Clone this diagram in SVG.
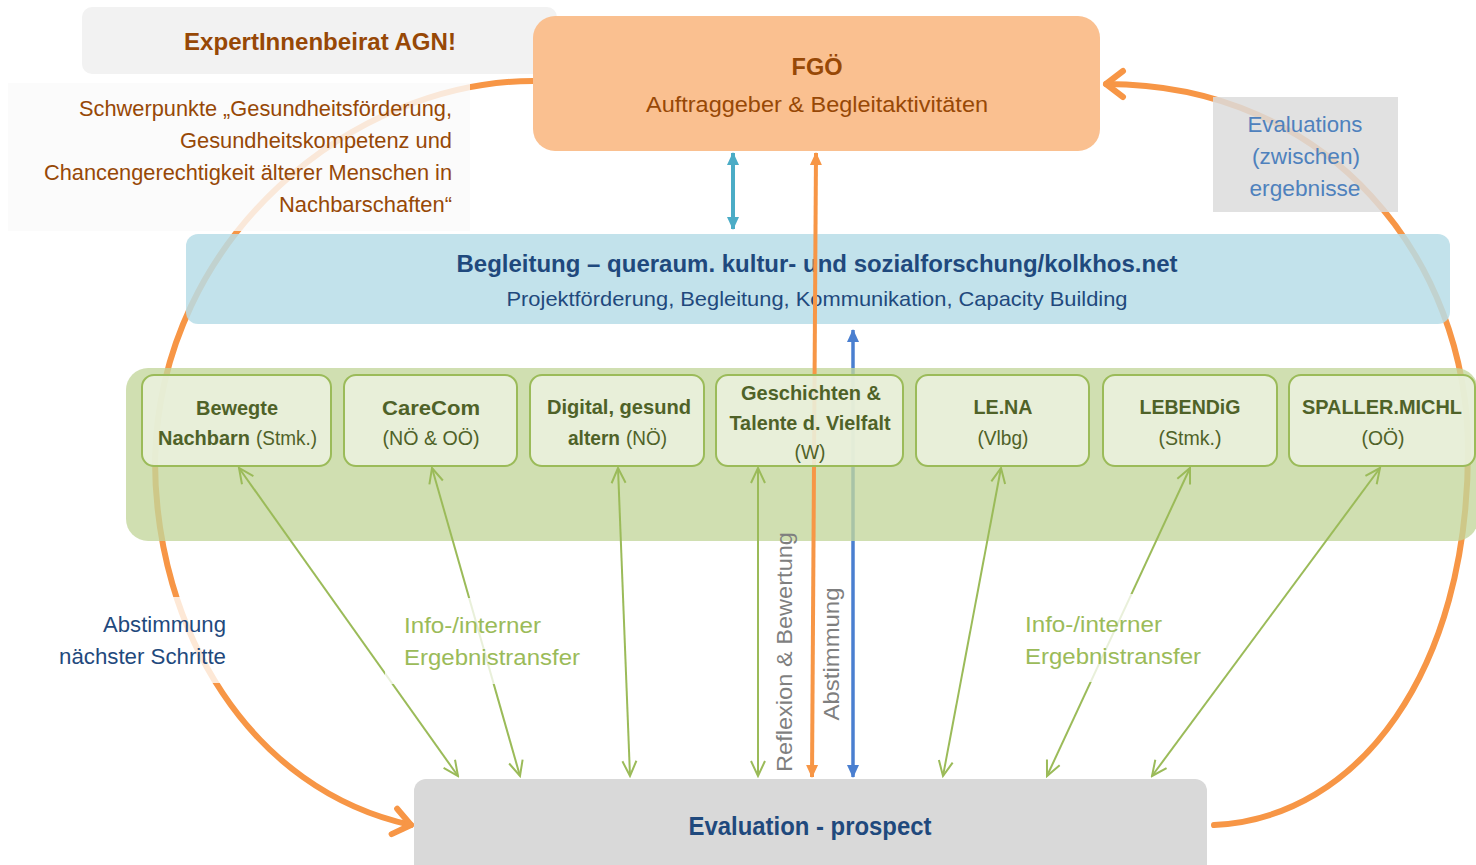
<svg xmlns="http://www.w3.org/2000/svg" width="1476" height="865" viewBox="0 0 1476 865">
<style>
text{font-family:"Liberation Sans Narrow","Liberation Sans",Arial,sans-serif;}
.brown{fill:#974806;}
.dblue{fill:#1f497d;}
.mblue{fill:#4f81bd;}
.olive{fill:#4f6228;}
.green{fill:#9bbb59;}
.gray{fill:#7f7f7f;}
.b{font-weight:bold;}
.n{font-weight:normal;}
.proj rect{fill:#ebf1de;fill-opacity:0.88;stroke:#9bbb59;stroke-width:2;}
.proj text{font-size:21px;text-anchor:middle;fill:#4f6228;}
.proj text.s{text-anchor:start;}
.garrow{fill:none;stroke:#9bbb59;stroke-width:2;marker-start:url(#gHead);marker-end:url(#gHead);}
.arc{fill:none;stroke:#f79646;stroke-width:6;stroke-linecap:round;marker-end:url(#arcHead);}
.lbl{font-size:22px;}
</style>
<defs>
<marker id="gHead" markerUnits="userSpaceOnUse" viewBox="0 0 20 20" refX="18" refY="10" markerWidth="20" markerHeight="20" orient="auto-start-reverse">
<path d="M3,3 L18,10 L3,17" fill="none" stroke="#9bbb59" stroke-width="2"/>
</marker>
<marker id="arcHead" markerUnits="userSpaceOnUse" viewBox="-24 -18 30 36" refX="0" refY="0" markerWidth="30" markerHeight="36" orient="auto">
<path d="M-17,-13 L0,0 L-17,13" fill="none" stroke="#f79646" stroke-width="6" stroke-linecap="round" stroke-linejoin="round"/>
</marker>
<marker id="oHead" markerUnits="userSpaceOnUse" viewBox="0 0 14 14" refX="12" refY="7" markerWidth="14" markerHeight="14" orient="auto-start-reverse">
<path d="M0,1 L13,7 L0,13 z" fill="#f79646"/>
</marker>
<marker id="bHead" markerUnits="userSpaceOnUse" viewBox="0 0 14 14" refX="12" refY="7" markerWidth="14" markerHeight="14" orient="auto-start-reverse">
<path d="M0,1 L13,7 L0,13 z" fill="#4a7fd0"/>
</marker>
<marker id="tHead" markerUnits="userSpaceOnUse" viewBox="0 0 14 14" refX="12" refY="7" markerWidth="14" markerHeight="14" orient="auto-start-reverse">
<path d="M0,1 L13,7 L0,13 z" fill="#4bacc6"/>
</marker>
</defs>
<rect width="1476" height="865" fill="#ffffff"/>

<g id="connectors-back">
<path class="arc" d="M533,81 C355,81 160,235 155,460 C155,630 250,790 411,825"/>
<path class="arc" d="M1214,825 C1360,818 1468,670 1468,450 C1468,260 1330,84 1106,84"/>
<line x1="853" y1="330" x2="853" y2="777" stroke="#4a7fd0" stroke-width="3.5" marker-start="url(#bHead)" marker-end="url(#bHead)"/>
</g>

<g id="expert">
<rect x="82" y="7" width="475" height="67" rx="10" fill="#f2f2f2"/>
<text x="320" y="50" text-anchor="middle" class="brown b" font-size="23" textLength="272" lengthAdjust="spacingAndGlyphs">ExpertInnenbeirat AGN!</text>
</g>

<g id="schwerpunkte">
<rect x="8" y="83" width="462" height="148" fill="#fafafa" fill-opacity="0.82"/>
<g class="brown" font-size="22" text-anchor="end">
<text x="452" y="116" textLength="373" lengthAdjust="spacingAndGlyphs">Schwerpunkte „Gesundheitsförderung,</text>
<text x="452" y="148" textLength="272" lengthAdjust="spacingAndGlyphs">Gesundheitskompetenz und</text>
<text x="452" y="180" textLength="408" lengthAdjust="spacingAndGlyphs">Chancengerechtigkeit älterer Menschen in</text>
<text x="452" y="212" textLength="173" lengthAdjust="spacingAndGlyphs">Nachbarschaften“</text>
</g>
</g>

<g id="fgoe">
<rect x="533" y="16" width="567" height="135" rx="22" fill="#fac090"/>
<text x="817" y="75" text-anchor="middle" class="brown b" font-size="23" textLength="51" lengthAdjust="spacingAndGlyphs">FGÖ</text>
<text x="817" y="112" text-anchor="middle" class="brown" font-size="22" textLength="342" lengthAdjust="spacingAndGlyphs">Auftraggeber  &amp; Begleitaktivitäten</text>
</g>

<g id="evaluations-label">
<rect x="1213" y="97" width="185" height="115" fill="#dcdcdc" fill-opacity="0.85"/>
<g class="mblue" font-size="22" text-anchor="middle">
<text x="1305" y="132" textLength="115" lengthAdjust="spacingAndGlyphs">Evaluations</text>
<text x="1306" y="164" textLength="108" lengthAdjust="spacingAndGlyphs">(zwischen)</text>
<text x="1305" y="196" textLength="111" lengthAdjust="spacingAndGlyphs">ergebnisse</text>
</g>
</g>

<g id="begleitung">
<rect x="186" y="234" width="1264" height="90" rx="12" fill="#b7dde8" fill-opacity="0.85"/>
<text x="817" y="272" text-anchor="middle" class="dblue b" font-size="23" textLength="721" lengthAdjust="spacingAndGlyphs">Begleitung – queraum. kultur- und sozialforschung/kolkhos.net</text>
<text x="817" y="306" text-anchor="middle" class="dblue" font-size="21" textLength="621" lengthAdjust="spacingAndGlyphs">Projektförderung, Begleitung, Kommunikation, Capacity Building</text>
</g>

<g id="projects-band">
<rect x="126" y="368" width="1352" height="173" rx="22" fill="#c3d69b" fill-opacity="0.78"/>
</g>

<g id="connectors">
<line x1="816" y1="153" x2="812" y2="777" stroke="#f79646" stroke-width="4" marker-start="url(#oHead)" marker-end="url(#oHead)"/>
<line x1="733" y1="153" x2="733" y2="229" stroke="#4bacc6" stroke-width="4" marker-start="url(#tHead)" marker-end="url(#tHead)"/>
<line class="garrow" x1="239" y1="468" x2="458" y2="776"/>
<line class="garrow" x1="432" y1="468" x2="520" y2="776"/>
<line class="garrow" x1="618" y1="468" x2="630" y2="776"/>
<line class="garrow" x1="758" y1="468" x2="758" y2="776"/>
<line class="garrow" x1="1001" y1="468" x2="943" y2="776"/>
<line class="garrow" x1="1190" y1="468" x2="1047" y2="776"/>
<line class="garrow" x1="1380" y1="468" x2="1152" y2="776"/>
</g>

<g id="p-bewegte" class="proj">
<rect x="142" y="375" width="189" height="91" rx="12"/>
<text x="237" y="415" class="b" textLength="82" lengthAdjust="spacingAndGlyphs">Bewegte</text>
<text x="158" y="445" class="b s" textLength="92" lengthAdjust="spacingAndGlyphs">Nachbarn</text>
<text x="256" y="445" class="s" textLength="61" lengthAdjust="spacingAndGlyphs">(Stmk.)</text>
</g>
<g id="p-carecom" class="proj">
<rect x="344" y="375" width="173" height="91" rx="12"/>
<text x="431" y="415" class="b" font-size="22" textLength="98" lengthAdjust="spacingAndGlyphs">CareCom</text>
<text x="431" y="445" textLength="97" lengthAdjust="spacingAndGlyphs">(NÖ &amp; OÖ)</text>
</g>
<g id="p-digital" class="proj">
<rect x="530" y="375" width="174" height="91" rx="12"/>
<text x="619" y="414" class="b" textLength="144" lengthAdjust="spacingAndGlyphs">Digital, gesund</text>
<text x="568" y="445" class="b s" textLength="52" lengthAdjust="spacingAndGlyphs">altern</text>
<text x="626" y="445" class="s" textLength="41" lengthAdjust="spacingAndGlyphs">(NÖ)</text>
</g>
<g id="p-geschichten" class="proj">
<rect x="716" y="375" width="187" height="91" rx="12"/>
<text x="811" y="400" class="b" textLength="140" lengthAdjust="spacingAndGlyphs">Geschichten &amp;</text>
<text x="810" y="430" class="b" textLength="161" lengthAdjust="spacingAndGlyphs">Talente d. Vielfalt</text>
<text x="810" y="459" textLength="31" lengthAdjust="spacingAndGlyphs">(W)</text>
</g>
<g id="p-lena" class="proj">
<rect x="916" y="375" width="173" height="91" rx="12"/>
<text x="1003" y="414" class="b" textLength="59" lengthAdjust="spacingAndGlyphs">LE.NA</text>
<text x="1003" y="445" textLength="51" lengthAdjust="spacingAndGlyphs">(Vlbg)</text>
</g>
<g id="p-lebendig" class="proj">
<rect x="1103" y="375" width="174" height="91" rx="12"/>
<text x="1190" y="414" class="b" textLength="101" lengthAdjust="spacingAndGlyphs">LEBENDiG</text>
<text x="1190" y="445" textLength="63" lengthAdjust="spacingAndGlyphs">(Stmk.)</text>
</g>
<g id="p-spaller" class="proj">
<rect x="1289" y="375" width="186" height="91" rx="12"/>
<text x="1382" y="414" class="b" textLength="160" lengthAdjust="spacingAndGlyphs">SPALLER.MICHL</text>
<text x="1383" y="445" textLength="43" lengthAdjust="spacingAndGlyphs">(OÖ)</text>
</g>

<g id="labels">
<rect x="55" y="597" width="174" height="86" fill="#ffffff" fill-opacity="0.78"/>
<rect x="385" y="598" width="200" height="86" fill="#ffffff" fill-opacity="0.78"/>
<rect x="1020" y="594" width="186" height="88" fill="#ffffff" fill-opacity="0.78"/>
<g class="dblue lbl" text-anchor="end">
<text x="226" y="632" textLength="123" lengthAdjust="spacingAndGlyphs">Abstimmung</text>
<text x="226" y="664" textLength="167" lengthAdjust="spacingAndGlyphs">nächster Schritte</text>
</g>
<g class="green lbl">
<text x="404" y="633" textLength="137" lengthAdjust="spacingAndGlyphs">Info-/interner</text>
<text x="404" y="665" textLength="176" lengthAdjust="spacingAndGlyphs">Ergebnistransfer</text>
<text x="1025" y="632" textLength="137" lengthAdjust="spacingAndGlyphs">Info-/interner</text>
<text x="1025" y="664" textLength="176" lengthAdjust="spacingAndGlyphs">Ergebnistransfer</text>
</g>
<text transform="translate(792,652) rotate(-90)" text-anchor="middle" class="gray lbl" textLength="240" lengthAdjust="spacingAndGlyphs">Reflexion &amp; Bewertung</text>
<text transform="translate(839,654) rotate(-90)" text-anchor="middle" class="gray lbl" textLength="133" lengthAdjust="spacingAndGlyphs">Abstimmung</text>
</g>

<g id="evaluation">
<rect x="414" y="779" width="793" height="100" rx="12" fill="#d9d9d9"/>
<text x="810" y="835" text-anchor="middle" class="dblue b" font-size="25" textLength="243" lengthAdjust="spacingAndGlyphs">Evaluation - prospect</text>
</g>
</svg>
